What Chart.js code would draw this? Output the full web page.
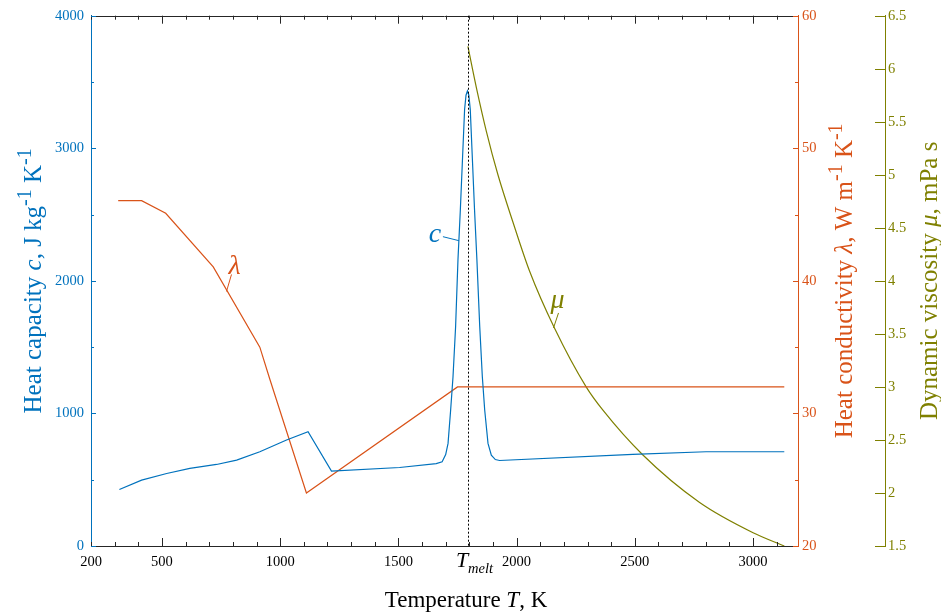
<!DOCTYPE html>
<html>
<head>
<meta charset="utf-8">
<script src="https://cdn.jsdelivr.net/npm/chart.js@4"></script>
<style>
  html, body { margin: 0; padding: 0; background: #fff; }
</style>
</head>
<body>
<canvas id="chart" width="941" height="612"></canvas>
<script>
// heat capacity c(T)
const tempC = [320, 414, 520, 618, 731, 816, 914, 1027, 1118, 1217, 1505, 1660, 1685, 1700, 1710, 1721, 1731, 1742, 1752, 1762, 1771, 1780, 1786, 1792, 1798, 1804, 1813, 1822, 1832, 1844, 1855, 1865, 1879, 1893, 1910, 1928, 2491, 2801, 3132];
const heatCap = [426, 497, 547, 585, 615, 648, 711, 800, 862, 565, 592, 622, 635, 690, 774, 1026, 1277, 1655, 2160, 2537, 2915, 3293, 3400, 3432, 3400, 3293, 2915, 2537, 2160, 1655, 1277, 1026, 774, 685, 652, 645, 691, 711, 711];

// heat conductivity lambda(T)
const tempL = [315, 414, 516, 717, 914, 956, 1111, 1750, 3132];
const conduct = [46.05, 46.05, 45.1, 41.05, 35.0, 32.6, 24.0, 32.0, 32.0];

// dynamic viscosity mu(T), liquid only
const tempM = [1794, 1830, 1872, 1921, 1985, 2055, 2161, 2294, 2365, 2533, 2774, 3000, 3132];
const viscos = [6.21, 5.82, 5.41, 5.0, 4.55, 4.09, 3.55, 3.0, 2.78, 2.36, 1.91, 1.625, 1.5];

const T_MELT = 1795;

// axis ticks
const xTicks = [];
for (let t = 200; t <= 3100; t += 100) xTicks.push(t);
const xLabels = [200, 500, 1000, 1500, 2000, 2500, 3000];
const cTicks = [0, 500, 1000, 1500, 2000, 2500, 3000, 3500, 4000];
const lTicks = [20, 25, 30, 35, 40, 45, 50, 55, 60];
const mTicks = [1.5, 2, 2.5, 3, 3.5, 4, 4.5, 5, 5.5, 6, 6.5];

// curve name labels (anchor on curve)
const tagText = ["c", "λ", "μ"];
const tagT = [1756, 773, 2156];
const tagV = [2303, 39.2, 3.556];
const tagAxis = ["yC", "yL", "yM"];

const BLUE = "#0072BD";
const ORANGE = "#D95319";
const OLIVE = "#7F8000";
const DARK = "#262626";
const SERIF = "'Liberation Serif', 'Times New Roman', serif";

function pts(xs, ys) {
  return xs.map((x, i) => ({ x: x, y: ys[i] }));
}

function fixedWidth(w) {
  return function (scale) { scale.width = w; };
}

// draw text made of parts: [text, style] with style n / i / sup / isub
function richText(ctx, parts, size) {
  const measured = parts.map(([txt, st]) => {
    let sz = size;
    if (st === "sup") sz = size * 0.8;
    if (st === "isub") sz = size * 0.66;
    const font = (st === "i" || st === "isub" ? "italic " : "") + sz + "px " + SERIF;
    ctx.font = font;
    return { txt, st, font, w: ctx.measureText(txt).width };
  });
  const total = measured.reduce((a, m) => a + m.w, 0);
  let x = -total / 2;
  ctx.textAlign = "left";
  ctx.textBaseline = "alphabetic";
  for (const m of measured) {
    ctx.font = m.font;
    let dy = 0;
    if (m.st === "sup") dy = -size * 0.4;
    if (m.st === "isub") dy = size * 0.25;
    ctx.fillText(m.txt, x, dy);
    x += m.w;
  }
}

const decor = {
  id: "decor",
  afterDraw(chart) {
    const ctx = chart.ctx;
    const a = chart.chartArea;
    const sx = chart.scales.x, sc = chart.scales.yC, sl = chart.scales.yL, sm = chart.scales.yM;
    ctx.save();
    ctx.lineWidth = 1;

    // top frame line
    ctx.strokeStyle = DARK;
    ctx.beginPath();
    ctx.moveTo(a.left, Math.round(a.top) + 0.5);
    ctx.lineTo(a.right, Math.round(a.top) + 0.5);
    ctx.stroke();

    // x ticks, inward on bottom and top
    ctx.beginPath();
    xTicks.forEach((t) => {
      const px = Math.round(sx.getPixelForValue(t)) + 0.5;
      const len = t % 500 === 0 ? 8 : 4;
      ctx.moveTo(px, a.bottom); ctx.lineTo(px, a.bottom - len);
      ctx.moveTo(px, a.top); ctx.lineTo(px, a.top + len);
    });
    ctx.stroke();

    // left ticks
    ctx.strokeStyle = BLUE;
    ctx.beginPath();
    cTicks.forEach((v) => {
      const py = Math.round(sc.getPixelForValue(v)) + 0.5;
      const len = v % 1000 === 0 ? 5 : 3;
      ctx.moveTo(a.left, py); ctx.lineTo(a.left + len, py);
    });
    ctx.stroke();

    // lambda ticks
    ctx.strokeStyle = ORANGE;
    ctx.beginPath();
    lTicks.forEach((v) => {
      const py = Math.round(sl.getPixelForValue(v)) + 0.5;
      const len = v % 10 === 0 ? 5 : 3;
      ctx.moveTo(a.right, py); ctx.lineTo(a.right - len, py);
    });
    ctx.stroke();

    // mu ticks, pointing left of its own axis line
    ctx.strokeStyle = OLIVE;
    ctx.beginPath();
    mTicks.forEach((v) => {
      const py = Math.round(sm.getPixelForValue(v)) + 0.5;
      ctx.moveTo(sm.left, py); ctx.lineTo(sm.left - 10, py);
    });
    ctx.stroke();

    // melting point line
    const xm = Math.round(sx.getPixelForValue(T_MELT)) + 0.5;
    ctx.strokeStyle = "#000";
    ctx.setLineDash([2, 2]);
    ctx.beginPath();
    ctx.moveTo(xm, a.top);
    ctx.lineTo(xm, a.bottom);
    ctx.stroke();
    ctx.setLineDash([]);

    // T_melt tick label
    ctx.fillStyle = "#000";
    ctx.save();
    ctx.translate(xm + 6, 567);
    richText(ctx, [["T", "i"], ["melt", "isub"]], 22);
    ctx.restore();

    // curve name tags with short leaders: [dx, dy] leader end, [tx, ty] text offset
    const leaders = [[-16, -4, -8, 5], [5, -17, 3, 0], [5, -15, -1, -5]];
    const colors = [BLUE, ORANGE, OLIVE];
    tagText.forEach((txt, i) => {
      const s = chart.scales[tagAxis[i]];
      const px = sx.getPixelForValue(tagT[i]);
      const py = s.getPixelForValue(tagV[i]);
      const [dx, dy, tx, ty] = leaders[i];
      ctx.strokeStyle = colors[i];
      ctx.fillStyle = colors[i];
      ctx.beginPath();
      ctx.moveTo(px, py);
      ctx.lineTo(px + dx, py + dy);
      ctx.stroke();
      ctx.font = "italic 28px " + SERIF;
      ctx.textAlign = "center";
      ctx.textBaseline = "alphabetic";
      ctx.fillText(txt, px + dx + tx, py + dy + ty);
    });

    // axis titles
    ctx.fillStyle = "#000";
    ctx.save();
    ctx.translate(466, 607);
    richText(ctx, [["Temperature ", "n"], ["T", "i"], [", K", "n"]], 23);
    ctx.restore();

    const midY = (a.top + a.bottom) / 2;
    ctx.fillStyle = BLUE;
    ctx.save();
    ctx.translate(41, midY);
    ctx.rotate(-Math.PI / 2);
    richText(ctx, [["Heat capacity ", "n"], ["c", "i"], [", J kg", "n"], ["-1", "sup"], [" K", "n"], ["-1", "sup"]], 25);
    ctx.restore();

    ctx.fillStyle = ORANGE;
    ctx.save();
    ctx.translate(852, midY);
    ctx.rotate(-Math.PI / 2);
    richText(ctx, [["Heat conductivity ", "n"], ["λ", "i"], [", W m", "n"], ["-1", "sup"], [" K", "n"], ["-1", "sup"]], 25);
    ctx.restore();

    ctx.fillStyle = OLIVE;
    ctx.save();
    ctx.translate(937, midY);
    ctx.rotate(-Math.PI / 2);
    richText(ctx, [["Dynamic viscosity ", "n"], ["μ", "i"], [", mPa s", "n"]], 25);
    ctx.restore();

    ctx.restore();
  }
};

const tickFont = { family: SERIF, size: 14.5 };

new Chart(document.getElementById("chart").getContext("2d"), {
  type: "line",
  data: {
    datasets: [
      { label: "c", data: pts(tempC, heatCap), yAxisID: "yC", borderColor: BLUE, borderWidth: 1.2, pointRadius: 0, tension: 0 },
      { label: "lambda", data: pts(tempL, conduct), yAxisID: "yL", borderColor: ORANGE, borderWidth: 1.2, pointRadius: 0, tension: 0 },
      { label: "mu", data: pts(tempM, viscos), yAxisID: "yM", borderColor: OLIVE, borderWidth: 1.2, pointRadius: 0, cubicInterpolationMode: "monotone" }
    ]
  },
  options: {
    responsive: false,
    animation: false,
    devicePixelRatio: 1,
    layout: { padding: { top: 15, left: 0, right: 0, bottom: 0 } },
    plugins: { legend: { display: false }, tooltip: { enabled: false } },
    scales: {
      x: {
        type: "linear", position: "bottom", min: 200, max: 3190,
        afterBuildTicks: (s) => { s.ticks = xTicks.map((v) => ({ value: v })); },
        afterFit: (s) => { s.height = 66; },
        ticks: {
          autoSkip: false, maxRotation: 0, padding: 7, color: "#000", font: tickFont,
          callback: (v) => (xLabels.includes(v) ? String(v) : "")
        },
        grid: { drawOnChartArea: false, drawTicks: false },
        border: { color: DARK, width: 1 }
      },
      yC: {
        type: "linear", position: "left", min: 0, max: 4000, weight: 0,
        afterBuildTicks: (s) => { s.ticks = cTicks.map((v) => ({ value: v })); },
        afterFit: fixedWidth(91),
        ticks: { padding: 7, color: BLUE, font: tickFont, callback: (v) => (v % 1000 === 0 ? String(v) : "") },
        grid: { drawOnChartArea: false, drawTicks: false },
        border: { color: BLUE, width: 1 }
      },
      yL: {
        type: "linear", position: "right", min: 20, max: 60, weight: 0,
        afterBuildTicks: (s) => { s.ticks = lTicks.map((v) => ({ value: v })); },
        afterFit: fixedWidth(87),
        ticks: { padding: 4, color: ORANGE, font: tickFont, callback: (v) => (v % 10 === 0 ? String(v) : "") },
        grid: { drawOnChartArea: false, drawTicks: false },
        border: { color: ORANGE, width: 1 }
      },
      yM: {
        type: "linear", position: "right", min: 1.5, max: 6.5, weight: 1,
        afterBuildTicks: (s) => { s.ticks = mTicks.map((v) => ({ value: v })); },
        afterFit: fixedWidth(56),
        ticks: { padding: 3, color: OLIVE, font: tickFont, callback: (v) => String(v) },
        grid: { drawOnChartArea: false, drawTicks: false },
        border: { color: OLIVE, width: 1 }
      }
    }
  },
  plugins: [decor]
});
</script>
</body>
</html>
